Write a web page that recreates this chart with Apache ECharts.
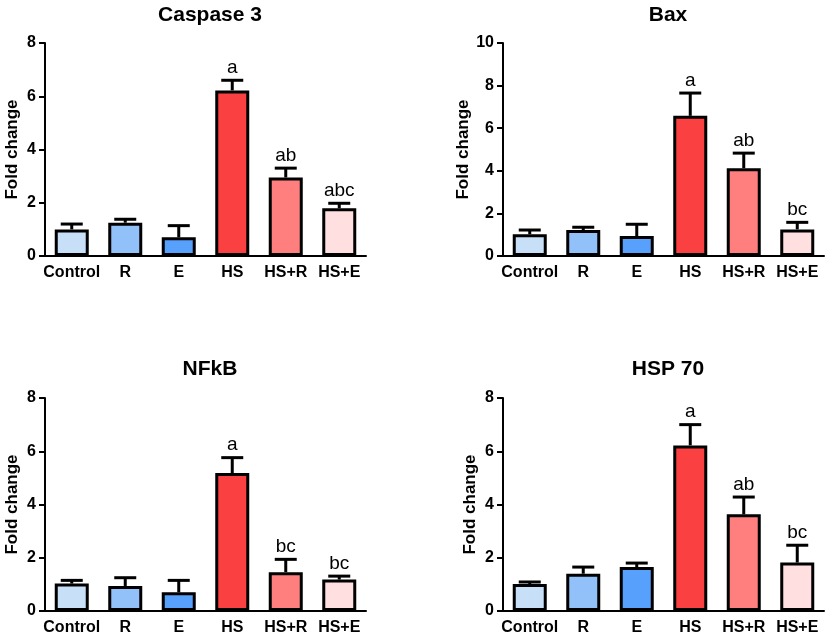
<!DOCTYPE html>
<html>
<head>
<meta charset="utf-8">
<title>Fold change</title>
<script src="https://cdn.jsdelivr.net/npm/echarts@6/dist/echarts.min.js"></script>
<style>
    html, body { margin: 0; padding: 0; background: #fff; }
    #chart { width: 829px; height: 637px; }
</style>
</head>
<body>
<div id="chart"></div>
<script>
// groups on the x axis
var categories = ['Control', 'R', 'E', 'HS', 'HS+R', 'HS+E'];
var barColors = ['#c8dff8', '#92c0f8', '#57a0fc', '#fa4040', '#ff7f7f', '#ffdfe0'];

// Caspase 3
var casp3Mean = [1.00, 1.25, 0.70, 6.22, 2.95, 1.79];
var casp3Err = [0.20, 0.13, 0.44, 0.38, 0.35, 0.19];
var casp3Letters = ['', '', '', 'a', 'ab', 'abc'];

// Bax
var baxMean = [1.02, 1.22, 0.94, 6.58, 4.12, 1.25];
var baxErr = [0.20, 0.13, 0.55, 1.07, 0.71, 0.33];
var baxLetters = ['', '', '', 'a', 'ab', 'bc'];

// NFkB
var nfkbMean = [1.03, 0.94, 0.70, 5.18, 1.46, 1.18];
var nfkbErr = [0.12, 0.31, 0.45, 0.58, 0.48, 0.13];
var nfkbLetters = ['', '', '', 'a', 'bc', 'bc'];

// HSP 70
var hspMean = [1.01, 1.40, 1.65, 6.22, 3.63, 1.82];
var hspErr = [0.08, 0.25, 0.15, 0.78, 0.65, 0.65];
var hspLetters = ['', '', '', 'a', 'ab', 'bc'];

var yMax = [8, 10, 8, 8];
var yTicks = [2, 2, 2, 2];

var panels = [
    {title: 'Caspase 3', mean: casp3Mean, err: casp3Err, letters: casp3Letters},
    {title: 'Bax', mean: baxMean, err: baxErr, letters: baxLetters},
    {title: 'NFkB', mean: nfkbMean, err: nfkbErr, letters: nfkbLetters},
    {title: 'HSP 70', mean: hspMean, err: hspErr, letters: hspLetters}
];

var FONT = 'Arial, "Liberation Sans", sans-serif';

// pixel boxes of the four plots
var grids = [
    {left: 45, right: 463, top: 43, bottom: 381},
    {left: 503, right: 5, top: 43, bottom: 381},
    {left: 45, right: 463, top: 398, bottom: 26},
    {left: 503, right: 5, top: 398, bottom: 26}
];
var titlePos = [
    {x: 205, y: 0},
    {x: 663, y: 0},
    {x: 205, y: 354},
    {x: 663, y: 354}
];

var option = {
    backgroundColor: '#fff',
    animation: false,
    title: [],
    grid: [],
    xAxis: [],
    yAxis: [],
    series: []
};

panels.forEach(function (p, i) {
    option.title.push({
        text: p.title,
        left: titlePos[i].x,
        top: titlePos[i].y,
        textAlign: 'center',
        textStyle: {fontFamily: FONT, fontSize: 21, fontWeight: 'bold', color: '#000'}
    });

    var g = grids[i];
    option.grid.push({
        left: g.left, right: g.right, top: g.top, bottom: g.bottom,
        containLabel: false,
        outerBoundsMode: 'none'
    });

    option.xAxis.push({
        type: 'category',
        gridIndex: i,
        data: categories,
        axisLine: {lineStyle: {color: '#000', width: 2}},
        axisTick: {alignWithLabel: true, length: 6, lineStyle: {color: '#000', width: 2}},
        axisLabel: {fontFamily: FONT, fontSize: 16, fontWeight: 'bold', color: '#000', margin: 9, interval: 0}
    });

    option.yAxis.push({
        type: 'value',
        gridIndex: i,
        min: 0,
        max: yMax[i],
        interval: yTicks[i],
        name: 'Fold change',
        nameLocation: 'middle',
        nameRotate: 90,
        nameGap: 24,
        nameTextStyle: {fontFamily: FONT, fontSize: 17, fontWeight: 'bold', color: '#000'},
        axisLine: {show: true, lineStyle: {color: '#000', width: 2}},
        axisTick: {show: true, length: 6, lineStyle: {color: '#000', width: 2}},
        axisLabel: {fontFamily: FONT, fontSize: 16, fontWeight: 'bold', color: '#000', margin: 9},
        splitLine: {show: false}
    });

    option.series.push({
        type: 'bar',
        xAxisIndex: i,
        yAxisIndex: i,
        barWidth: 34,
        data: p.mean.map(function (v, k) {
            return {value: v, itemStyle: {color: barColors[k]}};
        }),
        itemStyle: {borderColor: '#000', borderWidth: 3},
        z: 2
    });

    // upper error bar and the significance letters
    option.series.push({
        type: 'custom',
        xAxisIndex: i,
        yAxisIndex: i,
        z: 3,
        data: p.mean.map(function (v, k) {
            return [k, v, v + p.err[k]];
        }),
        renderItem: function (params, api) {
            var base = api.coord([api.value(0), api.value(1)]);
            var top = api.coord([api.value(0), api.value(2)]);
            var x = base[0];
            var children = [
                {
                    type: 'line',
                    shape: {x1: x, y1: base[1], x2: x, y2: top[1]},
                    style: {stroke: '#000', lineWidth: 3}
                },
                {
                    type: 'line',
                    shape: {x1: x - 11, y1: top[1], x2: x + 11, y2: top[1]},
                    style: {stroke: '#000', lineWidth: 3}
                }
            ];
            var letter = p.letters[params.dataIndex];
            if (letter) {
                children.push({
                    type: 'text',
                    style: {
                        text: letter,
                        x: x,
                        y: top[1] - 3,
                        align: 'center',
                        verticalAlign: 'bottom',
                        fontFamily: FONT,
                        fontSize: 19,
                        fill: '#000'
                    }
                });
            }
            return {type: 'group', children: children};
        }
    });
});

var chart = echarts.init(document.getElementById('chart'));
chart.setOption(option);
</script>
</body>
</html>
